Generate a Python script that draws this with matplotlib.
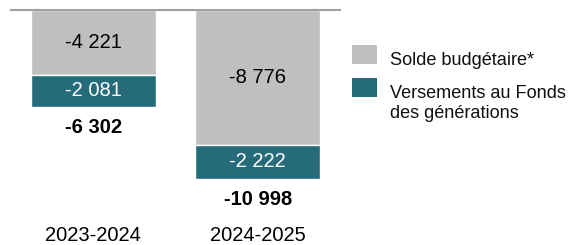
import matplotlib
matplotlib.use("Agg")
from matplotlib import pyplot as plt
from matplotlib.patches import Rectangle

plt.rcParams['font.family'] = ['Liberation Sans', 'DejaVu Sans']

# Data
years = ['2023-2024', '2024-2025']
solde = [-4221, -8776]
versements = [-2081, -2222]
totals = [-6302, -10998]
series_names = ['Solde budgétaire*', 'Versements au Fonds\ndes générations']

# Colors
grey = '#BFBFBF'
teal = '#256B7A'


def fmt(v):
    return f"{v:,}".replace(",", " ")


fig = plt.figure(figsize=(5.71, 2.45), dpi=100)
ax = fig.add_axes([11 / 571, 0, 329 / 571, 1 - 10 / 245])

x = range(len(years))
ax.bar(x, solde, width=0.76, color=grey, edgecolor='white', linewidth=1)
ax.bar(x, versements, bottom=solde, width=0.76, color=teal, edgecolor='white', linewidth=1)

ax.set_xlim(-0.5, 1.5)
ax.set_ylim(-15290, 0)

# Segment labels
for i in x:
    ax.text(i, solde[i] / 2, fmt(solde[i]), ha='center', va='center', fontsize=14.5, color='black')
    ax.text(i, solde[i] + versements[i] / 2, fmt(versements[i]), ha='center', va='center',
            fontsize=14.5, color='white')
    ax.text(i, totals[i] - 1330, fmt(totals[i]), ha='center', va='center', fontsize=14.5,
            fontweight='bold')
    ax.text(i, -14640, years[i], ha='center', va='center', fontsize=14.5)

# Axis styling
for s in ['left', 'right', 'bottom']:
    ax.spines[s].set_visible(False)
ax.spines['top'].set_color('#A0A0A0')
ax.spines['top'].set_linewidth(1.5)
ax.set_xticks([])
ax.set_yticks([])

# Legend (drawn by hand so the swatch lines up with the first text line)
W, H = 571, 245
for color, name, top in zip([grey, teal], series_names, [45, 78]):
    fig.add_artist(Rectangle((352 / W, 1 - (top + 19) / H), 25 / W, 19 / H,
                             transform=fig.transFigure, facecolor=color, edgecolor='none'))
    fig.text(390 / W, 1 - (top + 7) / H, name, ha='left', va='top', fontsize=13.1,
             linespacing=1.22, color='#111111')

fig.savefig('out.png', dpi=100)
